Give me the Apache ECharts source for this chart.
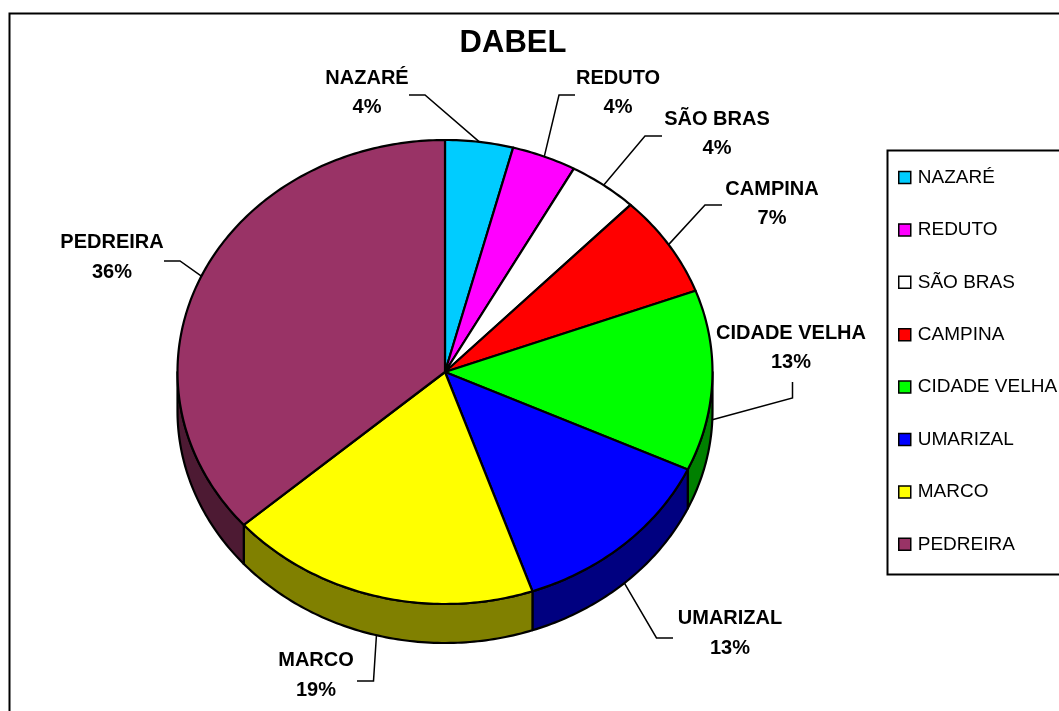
<!DOCTYPE html>
<html>
<head>
<meta charset="utf-8">
<title>DABEL</title>
<style>
    html, body { margin: 0; padding: 0; background: #fff; overflow: hidden; }
    #chart { width: 1059px; height: 711px; }
</style>
<script src="https://cdn.jsdelivr.net/npm/echarts@6/dist/echarts.min.js"></script>
</head>
<body>
<div id="chart"></div>
<script>
var categories = ['NAZARÉ', 'REDUTO', 'SÃO BRAS', 'CAMPINA', 'CIDADE VELHA', 'UMARIZAL', 'MARCO', 'PEDREIRA'];
var values = [4.1, 3.9, 4.2, 7.1, 12.6, 12.8, 18.85, 36.45];
var topColors = ['#00CCFF', '#FF00FF', '#FFFFFF', '#FF0000', '#00FF00', '#0000FF', '#FFFF00', '#993366'];
var sideColors = ['#006680', '#800080', '#808080', '#800000', '#008000', '#000080', '#808000', '#4D1A33'];

// label placement: text centre x, name y, percent y, then the elbow of the leader line
var labelX = [367, 618, 717, 772, 791, 730, 316, 112];
var nameY = [78, 78, 119, 189, 333, 618, 660, 242];
var percentY = [107, 107, 148, 218, 362, 648, 690, 272];
var leaderEnds = [[409, 95], [575, 95], [662, 136], [722, 205], [792.5, 382], [673, 638], [357, 681], [164, 261]];
var leaderElbows = [[425, 95], [559, 95], [645, 136], [705, 205], [792.5, 398], [656.5, 638], [373.5, 681], [180, 261]];

var centerX = 445;
var centerY = 372;
var radiusX = 267.5;
var radiusY = 232;
var depth = 39;

var total = values.reduce(function (a, b) { return a + b; }, 0);

function toAngle(v) {
    return echarts.number.linearMap(v, [0, total], [0, Math.PI * 2]);
}

function rimPoint(angle, drop) {
    return [centerX + radiusX * Math.sin(angle), centerY + drop - radiusY * Math.cos(angle)];
}

function arcPoints(from, to, drop) {
    var points = [];
    var steps = Math.max(2, Math.ceil((to - from) / 0.015));
    for (var i = 0; i <= steps; i++) {
        points.push(rimPoint(from + (to - from) * i / steps, drop));
    }
    return points;
}

function makeRenderItem(index) {
    var before = values.slice(0, index).reduce(function (a, b) { return a + b; }, 0);
    return function (params, api) {
        var start = toAngle(before);
        var end = toAngle(before + api.value(0));
        var middle = (start + end) / 2;
        var children = [];

        // the rim is only visible on the front half of the pie
        var sideFrom = Math.max(start, Math.PI / 2);
        var sideTo = Math.min(end, Math.PI * 3 / 2);
        if (sideFrom < sideTo) {
            children.push({
                type: 'polygon',
                shape: {points: arcPoints(sideFrom, sideTo, 0).concat(arcPoints(sideFrom, sideTo, depth).reverse())},
                style: {fill: sideColors[index], stroke: '#000', lineWidth: 2.2, lineJoin: 'round'}
            });
        }

        children.push({
            type: 'polygon',
            shape: {points: [[centerX, centerY]].concat(arcPoints(start, end, 0))},
            style: {fill: api.visual('color'), stroke: '#000', lineWidth: 2.2, lineJoin: 'round'}
        });

        var onFront = middle > Math.PI / 2 && middle < Math.PI * 3 / 2;
        children.push({
            type: 'polyline',
            shape: {points: [leaderEnds[index], leaderElbows[index], rimPoint(middle, onFront ? depth : 0)]},
            style: {fill: 'none', stroke: '#000', lineWidth: 1.5}
        });

        children.push({
            type: 'text',
            style: {
                x: labelX[index], y: nameY[index], text: categories[index],
                font: 'bold 20px "Liberation Sans", Arial, sans-serif',
                fill: '#000', align: 'center', verticalAlign: 'middle'
            }
        });
        children.push({
            type: 'text',
            style: {
                x: labelX[index], y: percentY[index], text: Math.round(api.value(0) / total * 100) + '%',
                font: 'bold 20px "Liberation Sans", Arial, sans-serif',
                fill: '#000', align: 'center', verticalAlign: 'middle'
            }
        });

        return {type: 'group', children: children};
    };
}

var chart = echarts.init(document.getElementById('chart'), null, {renderer: 'canvas'});

var option = {
    animation: false,
    backgroundColor: '#fff',
    title: {
        text: 'DABEL',
        left: 513,
        top: 28,
        textAlign: 'center',
        padding: 0,
        textStyle: {fontFamily: '"Liberation Sans", Arial, sans-serif', fontSize: 31, fontWeight: 'bold', color: '#000'}
    },
    legend: {
        orient: 'vertical',
        left: 898,
        top: 168,
        padding: 0,
        itemWidth: 12,
        itemHeight: 12,
        itemGap: 33.4,
        icon: 'rect',
        data: categories,
        selectedMode: false,
        itemStyle: {borderColor: '#000', borderWidth: 1.5},
        textStyle: {fontFamily: '"Liberation Sans", Arial, sans-serif', fontSize: 19, color: '#000', padding: [0, 0, 0, 2]}
    },
    graphic: [
        {
            type: 'rect', z: -1, silent: true,
            shape: {x: 9.5, y: 13.5, width: 1200, height: 900},
            style: {fill: 'none', stroke: '#000', lineWidth: 2}
        },
        {
            type: 'rect', z: -1, silent: true,
            shape: {x: 887.5, y: 150.5, width: 300, height: 424},
            style: {fill: '#fff', stroke: '#000', lineWidth: 2}
        }
    ],
    series: categories.map(function (name, index) {
        return {
            type: 'custom',
            name: name,
            coordinateSystem: 'none',
            silent: true,
            itemStyle: {color: topColors[index]},
            renderItem: makeRenderItem(index),
            data: [[values[index]]]
        };
    })
};

chart.setOption(option);
</script>
</body>
</html>
